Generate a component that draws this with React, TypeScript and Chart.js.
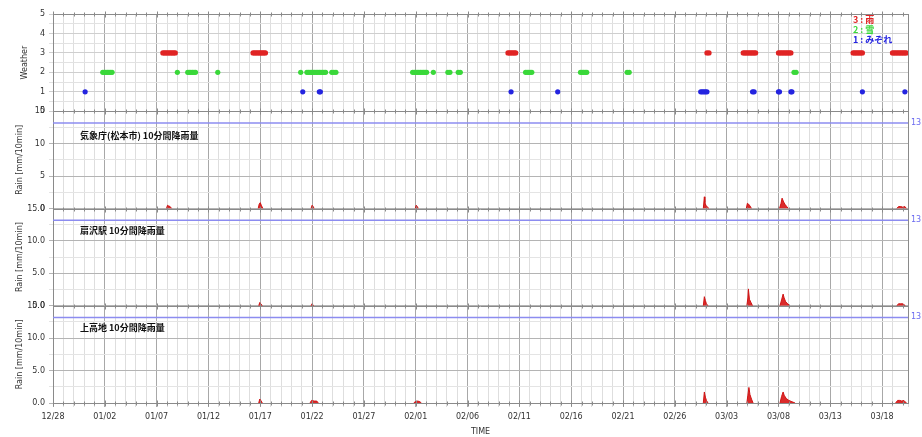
import React, { useEffect, useRef } from 'react';
import { Chart, registerables } from 'chart.js';

Chart.register(...registerables);

// ---------- data ----------
const xTickLabels = ['12/28', '01/02', '01/07', '01/12', '01/17', '01/22', '01/27', '02/01', '02/06', '02/11', '02/16', '02/21', '02/26', '03/03', '03/08', '03/13', '03/18'];
const xMaxDay = 82.5;

const weatherNames = ['3 : 雨', '2 : 雪', '1 : みぞれ'];
const weatherColors = ['#e02424', '#3ad83a', '#2424e0'];

// level 3 (rain)
const weatherRainDays = [
  10.6, 10.75, 10.9, 11.05, 11.2, 11.35, 11.5, 11.65, 11.8,
  19.3, 19.45, 19.6, 19.75, 19.9, 20.05, 20.2, 20.35, 20.5,
  43.9, 44.05, 44.2, 44.35, 44.5, 44.65,
  63.1, 63.3,
  66.6, 66.75, 66.9, 67.05, 67.2, 67.35, 67.5, 67.65, 67.8,
  70.0, 70.15, 70.3, 70.45, 70.6, 70.75, 70.9, 71.05, 71.2,
  77.2, 77.35, 77.5, 77.65, 77.8, 77.95, 78.1,
  81.0, 81.15, 81.3, 81.45, 81.6, 81.75, 81.9, 82.05, 82.2, 82.35,
];
// level 2 (snow)
const weatherSnowDays = [
  4.8, 4.95, 5.1, 5.25, 5.4, 5.55, 5.7,
  12.0,
  13.0, 13.15, 13.3, 13.45, 13.6, 13.75,
  15.9,
  23.9,
  24.5, 24.65, 24.8, 24.95, 25.1, 25.25, 25.4, 25.55, 25.7, 25.85, 26.0, 26.15, 26.3,
  26.9, 27.1, 27.3,
  34.7, 34.85, 35.0, 35.15, 35.3, 35.45, 35.6, 35.75, 35.9, 36.05,
  36.7,
  38.1, 38.3, 39.1, 39.3,
  45.6, 45.75, 45.9, 46.05, 46.2,
  50.9, 51.05, 51.2, 51.35, 51.5,
  55.4, 55.6,
  71.5, 71.7,
];
// level 1 (sleet)
const weatherSleetDays = [
  3.1, 24.1, 25.7, 25.8, 44.2, 48.7,
  62.5, 62.65, 62.8, 62.95, 63.1,
  67.5, 67.65, 70.0, 70.1, 71.2, 71.3, 78.1, 82.2,
];

const stationNames = ['気象庁(松本市) 10分間降雨量', '扇沢駅 10分間降雨量', '上高地 10分間降雨量'];

const rainDaysA = [10.95, 11.05, 11.15, 11.3, 11.45, 19.8, 19.9, 20.0, 20.1, 20.25, 24.9, 25.0, 25.1, 25.2, 34.95, 35.05, 35.15, 35.25, 62.75, 62.85, 62.9, 63.0, 63.15, 63.3, 66.9, 67.0, 67.1, 67.25, 67.4, 70.1, 70.25, 70.35, 70.5, 70.65, 70.8, 70.95, 81.4, 81.6, 81.8, 82.0, 82.2, 82.35];
const rainValuesA = [0, 0.5, 0.4, 0.3, 0, 0, 0.7, 0.9, 0.5, 0, 0, 0.5, 0.3, 0, 0, 0.5, 0.3, 0, 0, 1.8, 0.9, 0.5, 0.2, 0, 0, 0.8, 0.7, 0.4, 0, 0, 0.8, 1.6, 1.0, 0.6, 0.3, 0, 0, 0.3, 0.3, 0.2, 0.3, 0];

const rainDaysB = [19.85, 19.95, 20.05, 20.2, 24.9, 25.0, 25.15, 62.75, 62.85, 62.95, 63.05, 63.2, 66.95, 67.05, 67.1, 67.2, 67.35, 67.5, 70.15, 70.3, 70.45, 70.55, 70.7, 70.9, 71.1, 81.4, 81.6, 81.8, 82.0, 82.25];
const rainValuesB = [0, 0.5, 0.3, 0, 0, 0.3, 0, 0, 1.4, 0.8, 0.3, 0, 0, 1.2, 2.6, 1.0, 0.5, 0, 0, 0.9, 1.8, 1.2, 0.6, 0.3, 0, 0, 0.3, 0.3, 0.3, 0];

const rainDaysC = [19.85, 19.95, 20.05, 20.2, 24.8, 24.95, 25.2, 25.45, 25.6, 34.8, 34.95, 35.2, 35.4, 35.55, 62.75, 62.85, 62.95, 63.05, 63.2, 66.95, 67.05, 67.15, 67.25, 67.4, 67.55, 70.15, 70.3, 70.45, 70.55, 70.75, 71.0, 71.3, 71.6, 81.3, 81.5, 81.7, 81.9, 82.1, 82.35];
const rainValuesC = [0, 0.6, 0.4, 0, 0, 0.4, 0.3, 0.3, 0, 0, 0.2, 0.3, 0.2, 0, 0, 1.7, 0.9, 0.4, 0, 0, 1.2, 2.4, 1.3, 0.6, 0, 0, 1.0, 1.7, 1.2, 0.7, 0.4, 0.2, 0, 0, 0.4, 0.4, 0.3, 0.4, 0];

const thresholdValues = [13.2, 13.2, 13.2];
const thresholdLabel = '13';

// ---------- helpers ----------
const FONT = '"DejaVu Sans", sans-serif';
const rainIds = ['r1', 'r2', 'r3'];

const pts = (days: number[], level: number) => days.map((d) => ({ x: d, y: level }));
const xy = (days: number[], vals: number[]) => days.map((d, i) => ({ x: d, y: vals[i] }));
const isMult = (v: number, m: number) => Math.abs(v / m - Math.round(v / m)) < 1e-6;

const decorPlugin = {
  id: 'decor',
  afterDatasetsDraw(chart: any) {
    const ctx = chart.ctx;
    const ca = chart.chartArea;
    const xs = chart.scales.x;
    ctx.save();
    // panel boundaries with small day ticks
    const ys: number[] = [chart.scales.w.top];
    ['w', 'r1', 'r2', 'r3'].forEach((id) => ys.push(chart.scales[id].bottom));
    ctx.strokeStyle = '#8a8a8a';
    ctx.lineWidth = 1;
    ys.forEach((yy) => {
      const y = Math.round(yy) + 0.5;
      ctx.beginPath();
      ctx.moveTo(ca.left, y);
      ctx.lineTo(ca.right, y);
      ctx.stroke();
      for (let d = 0; d <= 82; d++) {
        const x = Math.round(xs.getPixelForValue(d)) + 0.5;
        const h = d % 5 === 0 ? 3 : 2;
        ctx.beginPath();
        ctx.moveTo(x, y - h);
        ctx.lineTo(x, y + h);
        ctx.stroke();
      }
    });
    // right border
    ctx.beginPath();
    ctx.moveTo(Math.round(ca.right) + 0.5, ca.top);
    ctx.lineTo(Math.round(ca.right) + 0.5, ca.bottom);
    ctx.stroke();

    // station labels
    ctx.fillStyle = '#111';
    ctx.font = 'bold 9px "Noto Sans CJK JP", sans-serif';
    ctx.textBaseline = 'middle';
    ctx.textAlign = 'left';
    rainIds.forEach((id, i) => {
      const s = chart.scales[id];
      ctx.fillText(stationNames[i], ca.left + 27, s.top + (i === 0 ? 24 : 22));
    });

    // threshold labels on the right
    ctx.fillStyle = '#6a6af0';
    ctx.font = '8px ' + FONT;
    rainIds.forEach((id, i) => {
      const s = chart.scales[id];
      ctx.fillText(thresholdLabel, ca.right + 3, s.getPixelForValue(thresholdValues[i]));
    });

    // weather legend
    ctx.font = 'bold 9px "Noto Sans CJK JP", sans-serif';
    weatherNames.forEach((n, i) => {
      ctx.fillStyle = weatherColors[i];
      ctx.fillText(n, ca.right - 55, ca.top + 6 + i * 10);
    });
    ctx.restore();
  },
};

function App() {
  const ref = useRef<HTMLCanvasElement | null>(null);

  useEffect(() => {
    if (!ref.current) return;

    const weatherDs = [weatherRainDays, weatherSnowDays, weatherSleetDays].map((days, i) => ({
      label: weatherNames[i],
      data: pts(days, 3 - i),
      yAxisID: 'w',
      showLine: false,
      pointRadius: 2.6,
      pointBorderWidth: 0,
      pointBackgroundColor: weatherColors[i],
      borderColor: weatherColors[i],
      backgroundColor: weatherColors[i],
    }));

    const rainSeries = [xy(rainDaysA, rainValuesA), xy(rainDaysB, rainValuesB), xy(rainDaysC, rainValuesC)];
    const rainDs = rainSeries.map((data, i) => ({
      label: stationNames[i],
      data,
      yAxisID: rainIds[i],
      fill: 'origin',
      backgroundColor: 'rgba(215,20,20,0.9)',
      borderColor: '#d01414',
      borderWidth: 1,
      pointRadius: 0,
      tension: 0,
      segment: {
        borderColor: (c: any) => (c.p0.parsed.y === 0 && c.p1.parsed.y === 0 ? 'rgba(0,0,0,0)' : undefined),
      },
    }));

    const thrDs = thresholdValues.map((t, i) => ({
      label: 'threshold ' + i,
      data: [{ x: 0, y: t }, { x: xMaxDay, y: t }],
      yAxisID: rainIds[i],
      borderColor: '#8c8cf0',
      borderWidth: 1.5,
      pointRadius: 0,
      fill: false,
    }));

    const gridX = (c: any) => {
      const v = c.tick ? c.tick.value : 0;
      return isMult(v, 5) ? '#a8a8a8' : '#dedede';
    };

    const rainAxis = (title: string, decimals: boolean) => ({
      type: 'linear',
      position: 'left',
      stack: 'panels',
      stackWeight: 1,
      min: 0,
      max: 15,
      afterFit: (s: any) => { s.width = 53; },
      border: { display: true, color: '#8a8a8a' },
      grid: {
        tickLength: 4,
        color: (c: any) => {
          const v = c.tick ? c.tick.value : 0;
          return isMult(v, 5) ? '#b4b4b4' : '#e4e4e4';
        },
      },
      ticks: {
        stepSize: 2.5,
        autoSkip: false,
        padding: 4,
        color: '#333',
        font: { size: 8, family: FONT },
        callback: (v: number) => (isMult(v, 5) ? (decimals ? Number(v).toFixed(1) : String(Math.round(v))) : ''),
      },
      title: { display: true, text: title, color: '#333', font: { size: 8, family: FONT }, padding: { top: 15, bottom: 0 } },
    });

    const chart = new Chart(ref.current, {
      type: 'line',
      data: { datasets: [...weatherDs, ...rainDs, ...thrDs] as any },
      plugins: [decorPlugin],
      options: {
        animation: false,
        responsive: false,
        maintainAspectRatio: false,
        layout: { padding: { top: 14, right: 14, left: 0, bottom: 0 } },
        plugins: { legend: { display: false }, tooltip: { enabled: false } },
        scales: {
          x: {
            type: 'linear',
            position: 'bottom',
            min: 0,
            max: xMaxDay,
            afterFit: (s: any) => { s.height = 34; },
            border: { display: true, color: '#8a8a8a' },
            grid: { color: gridX, tickLength: 4 },
            ticks: {
              stepSize: 1,
              autoSkip: false,
              maxRotation: 0,
              padding: 5,
              color: '#333',
              font: { size: 8, family: FONT },
              callback: (v: number) => (isMult(v, 5) ? xTickLabels[Math.round(v / 5)] || '' : ''),
            },
            title: { display: true, text: 'TIME', color: '#333', font: { size: 8, family: FONT }, padding: { top: 0, bottom: 0 } },
          },
          r3: rainAxis('Rain [mm/10min]', true),
          r2: rainAxis('Rain [mm/10min]', true),
          r1: rainAxis('Rain [mm/10min]', false),
          w: {
            type: 'linear',
            position: 'left',
            stack: 'panels',
            stackWeight: 1,
            min: 0,
            max: 5,
            afterFit: (s: any) => { s.width = 53; },
            border: { display: true, color: '#8a8a8a' },
            grid: {
              tickLength: 4,
              color: (c: any) => {
                const v = c.tick ? c.tick.value : 0;
                return isMult(v, 1) ? '#cfcfcf' : '#e2e2e2';
              },
            },
            ticks: {
              stepSize: 0.5,
              autoSkip: false,
              padding: 4,
              color: '#333',
              font: { size: 8, family: FONT },
              callback: (v: number) => (isMult(v, 1) ? String(Math.round(v)) : ''),
            },
            title: { display: true, text: 'Weather', color: '#333', font: { size: 8, family: FONT }, padding: { top: 20, bottom: 0 } },
          },
        } as any,
      },
    });
    return () => chart.destroy();
  }, []);

  return (
    <div style={{ position: 'absolute', left: 0, top: 0, width: 922, height: 437, background: '#fff' }}>
      <canvas ref={ref} width={922} height={437} style={{ display: 'block' }} />
    </div>
  );
}

export default App;
